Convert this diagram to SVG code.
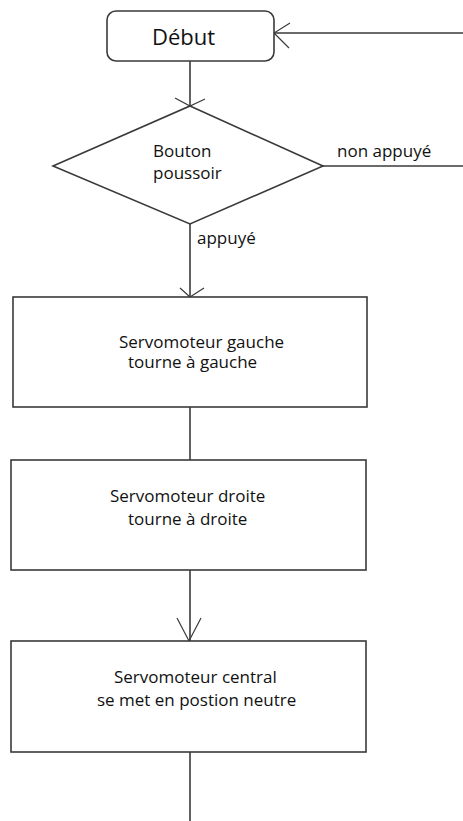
<svg xmlns="http://www.w3.org/2000/svg" width="463" height="821" viewBox="0 0 463 821">
<style>
.shape{fill:#fff;stroke:#3a3a3a;stroke-width:1.6}
.line{fill:none;stroke:#3a3a3a;stroke-width:1.6}
.head{fill:none;stroke:#3a3a3a;stroke-width:1.2}
text{font-family:"Open Sans","Liberation Sans",sans-serif;font-size:17px;fill:#111}
.big{font-size:22px}
</style>
<rect width="463" height="821" fill="#fff"/>
<g id="connectors">
<path class="line" d="M463,33 H274"/>
<path class="head" d="M290,23 L274,33 L289,48"/>
<path class="line" d="M190,61 V106"/>
<path class="head" d="M175,98 L190,106 L205,99"/>
<path class="line" d="M323,166 H463"/>
<path class="line" d="M190,224 V297"/>
<path class="head" d="M180,288 L190,297 L204,288"/>
<path class="line" d="M190,407 V460"/>
<path class="line" d="M190,570 V641"/>
<path class="head" d="M177,618 L189,641 L201,618"/>
<path class="line" d="M190,752 V821"/>
<text x="337" y="157">non appuyé</text>
<text x="197" y="244">appuyé</text>
</g>
<g id="debut">
<rect class="shape" x="107" y="11" width="167" height="50" rx="9" ry="9"/>
<text class="big" x="152" y="45">Début</text>
</g>
<g id="bouton">
<polygon class="shape" points="190,106 323,166 190,224 53,166"/>
<text x="153" y="157">Bouton</text>
<text x="153" y="179">poussoir</text>
</g>
<g id="servo-gauche">
<rect class="shape" x="13" y="297" width="354" height="110"/>
<text x="119" y="348">Servomoteur gauche</text>
<text x="128" y="368">tourne à gauche</text>
</g>
<g id="servo-droite">
<rect class="shape" x="11" y="460" width="355" height="110"/>
<text x="110" y="502">Servomoteur droite</text>
<text x="128" y="525">tourne à droite</text>
</g>
<g id="servo-central">
<rect class="shape" x="11" y="641" width="355" height="111"/>
<text x="114" y="683">Servomoteur central</text>
<text x="97" y="706">se met en postion neutre</text>
</g>
</svg>
